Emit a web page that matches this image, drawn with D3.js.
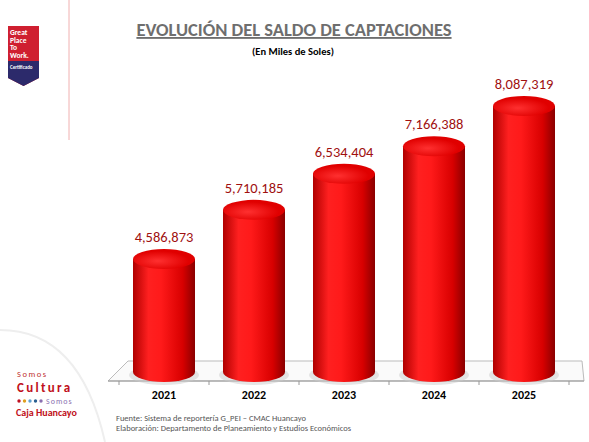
<!DOCTYPE html><html><head><meta charset="utf-8"><script src="https://cdn.jsdelivr.net/npm/d3@7"></script>
<style>body{margin:0;background:#fff}svg{font-family:Calibri,"Open Sans",Arial,sans-serif}</style></head><body><svg id="c" width="589" height="442"></svg><script>
const categories=["2021","2022","2023","2024","2025"];
const values=[4586873,5710185,6534404,7166388,8087319];
const labels=["4,586,873","5,710,185","6,534,404","7,166,388","8,087,319"];
const svg=d3.select("#c");
const defs=svg.append("defs");
const g=defs.append("linearGradient").attr("id","cyl");
[[0,"#b00000"],[0.25,"#ff2020"],[0.45,"#ff1a1a"],[0.8,"#d80000"],[1,"#8a0000"]].forEach(s=>g.append("stop").attr("offset",s[0]).attr("stop-color",s[1]));
const gt=defs.append("radialGradient").attr("id","top").attr("cx",0.4).attr("cy",0.6);
gt.append("stop").attr("offset",0).attr("stop-color","#ff3030");gt.append("stop").attr("offset",1).attr("stop-color","#e00000");
const x=d3.scalePoint().domain(categories).range([164,524]);
const y=d3.scaleLinear().domain([2000000,8087319]).range([372,106]);
svg.append("line").attr("x1",69).attr("x2",69).attr("y1",0).attr("y2",140).attr("stroke","#f0b0b0");
svg.append("path").attr("d","M0,330 Q80,330 105,442").attr("fill","none").attr("stroke","#eee").attr("stroke-width",2);
svg.append("path").attr("d","M8,26 H39 V78 L23.5,86 L8,78 Z").attr("fill","#cf1f30");
svg.append("path").attr("d","M8,61 H39 V78 L23.5,86 L8,78 Z").attr("fill","#2c2a6b");
["Great","Place","To","Work."].forEach((t,i)=>svg.append("text").attr("x",10).attr("y",35+i*7.5).attr("fill","#fff").attr("font-size",7.5).attr("font-weight","bold").text(t));
svg.append("text").attr("x",10).attr("y",69).attr("fill","#fff").attr("font-size",5).attr("font-weight","bold").text("Certificado");
svg.append("text").attr("x",294).attr("y",36).attr("text-anchor","middle").attr("font-size",18.5).attr("font-weight","bold").attr("fill","#6e6e6e").attr("text-decoration","underline").text("EVOLUCIÓN DEL SALDO DE CAPTACIONES");
svg.append("text").attr("x",293).attr("y",55).attr("text-anchor","middle").attr("font-size",10.5).attr("font-weight","bold").attr("fill","#000").text("(En Miles de Soles)");
svg.append("path").attr("d","M108,381 L128,361 L582,361 L584,381 Z").attr("fill","#fafafa").attr("stroke","#bbb");
svg.append("line").attr("x1",108).attr("x2",584).attr("y1",381).attr("y2",381).attr("stroke","#999");
[119,209,299,389,479,569].forEach(t=>svg.append("line").attr("x1",t).attr("x2",t).attr("y1",381).attr("y2",385).attr("stroke","#999"));
const w=62,ry=10;
categories.forEach((c,i)=>{
 const cx=x(c),top=y(values[i]),bot=372;
 svg.append("ellipse").attr("cx",cx).attr("cy",bot+3).attr("rx",w/2+4).attr("ry",ry).attr("fill","#ccc").attr("opacity",0.5);
 svg.append("path").attr("d",`M${cx-w/2},${top} L${cx-w/2},${bot} A${w/2},${ry} 0 0 0 ${cx+w/2},${bot} L${cx+w/2},${top} Z`).attr("fill","url(#cyl)");
 svg.append("ellipse").attr("cx",cx).attr("cy",top).attr("rx",w/2).attr("ry",ry).attr("fill","url(#top)");
 svg.append("text").attr("x",cx).attr("y",top-17).attr("text-anchor","middle").attr("font-size",14.5).attr("fill","#a01010").text(labels[i]);
 svg.append("text").attr("x",cx).attr("y",399).attr("text-anchor","middle").attr("font-size",12).attr("font-weight","bold").text(c);
});
svg.append("text").attr("x",116).attr("y",421).attr("font-size",8.5).attr("fill","#555").text("Fuente: Sistema de reportería G_PEI – CMAC Huancayo");
svg.append("text").attr("x",116).attr("y",431).attr("font-size",8.5).attr("fill","#555").text("Elaboración: Departamento de Planeamiento y Estudios Económicos");
svg.append("text").attr("x",17).attr("y",377).attr("font-size",8.5).attr("fill","#c03030").attr("letter-spacing",1.5).text("Somos");
svg.append("text").attr("x",17).attr("y",392).attr("font-size",13).attr("font-weight","bold").attr("fill","#c01020").attr("letter-spacing",2.3).text("Cultura");
["#c01020","#e0a020","#60a0d0","#2a6090","#8a70b0"].forEach((col,i)=>svg.append("circle").attr("cx",19+i*5.5).attr("cy",401).attr("r",1.7).attr("fill",col));
svg.append("text").attr("x",46).attr("y",404).attr("font-size",8).attr("fill","#8a70b0").attr("letter-spacing",1).text("Somos");
svg.append("text").attr("x",16).attr("y",416).attr("font-size",10).attr("font-weight","bold").attr("fill","#c01020").text("Caja Huancayo");
</script></body></html>
